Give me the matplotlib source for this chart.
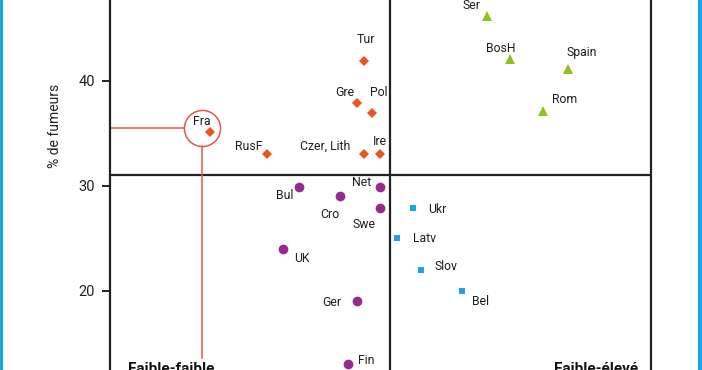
import matplotlib
matplotlib.use('Agg')
import matplotlib.pyplot as plt
from matplotlib.lines import Line2D

plt.rcParams['font.family'] = ['Roboto', 'DejaVu Sans']

# x: position on the horizontal axis (arbitrary units), y: % de fumeurs
orange_names = ['Fra', 'Tur', 'Gre', 'Pol', 'RusF', 'Czer, Lith', 'Ire']
orange_x = [10.0, 25.4, 24.7, 26.2, 15.7, 25.4, 27.0]
orange_y = [35.1, 41.9, 37.9, 36.9, 33.0, 33.0, 33.0]

green_names = ['Ser', 'BosH', 'Spain', 'Rom']
green_x = [37.7, 40.0, 45.8, 43.3]
green_y = [46.2, 42.1, 41.1, 37.1]

purple_names = ['Bul', 'Cro', 'Net', 'Swe', 'UK', 'Ger', 'Fin']
purple_x = [18.9, 23.0, 27.0, 27.0, 17.3, 24.7, 23.8]
purple_y = [29.9, 29.0, 29.9, 27.9, 24.0, 19.0, 13.0]

blue_names = ['Ukr', 'Latv', 'Slov', 'Bel']
blue_x = [30.3, 28.7, 31.1, 35.2]
blue_y = [27.9, 25.0, 22.0, 20.0]

x_split = 28.0
y_split = 31.0
yticks = [20, 30, 40]
corner_labels = ['Faible-faible', 'Faible-élevé']
highlight = 'Fra'

# label offsets in pixels (dx, dy) relative to the marker
offsets = {
    'Fra': (-8, 11), 'Tur': (2, 21), 'Gre': (-12, 10), 'Pol': (7, 21),
    'RusF': (-18, 8), 'Czer, Lith': (-39, 8), 'Ire': (0, 13),
    'Ser': (-15, 10), 'BosH': (-9, 10), 'Spain': (14, 17), 'Rom': (22, 12),
    'Bul': (-14, -9), 'Cro': (-10, -18), 'Net': (-18, 4), 'Swe': (-16, -17),
    'UK': (19, -10), 'Ger': (-25, -1), 'Fin': (18, 4),
    'Ukr': (24, -2), 'Latv': (28, 0), 'Slov': (25, 3), 'Bel': (19, -11),
}

ORANGE = '#e8561f'
GREEN = '#8dc21f'
PURPLE = '#962a8c'
BLUE = '#1ca3e3'
RED = '#e2574c'

fig = plt.figure(figsize=(7.02, 3.70), dpi=100)
ax = fig.add_axes([110 / 702, 0, 541 / 702, 1])
ax.set_xlim(0, 54.1)
ax.set_ylim(12.45, 47.7)

groups = [
    (orange_names, orange_x, orange_y, ORANGE, 'D', 5),
    (green_names, green_x, green_y, GREEN, '^', 6.5),
    (purple_names, purple_x, purple_y, PURPLE, 'o', 7),
    (blue_names, blue_x, blue_y, BLUE, 's', 5),
]
for names, xs, ys, col, mk, ms in groups:
    ax.plot(xs, ys, linestyle='none', marker=mk, color=col, markersize=ms,
            markeredgewidth=0, zorder=3)
    for n, x, y in zip(names, xs, ys):
        dx, dy = offsets[n]
        ax.annotate(n, (x, y), xytext=(dx, dy), textcoords='offset pixels',
                    ha='center', va='center', fontsize=8.8, color='#1e1e1e')

# quadrant lines
ax.axvline(x_split, color='#222222', lw=1.6, zorder=1)
ax.axhline(y_split, color='#222222', lw=1.6, zorder=1)

# highlight circle around France
cx, cy = 9.2, 35.52
r_x, r_y = 1.8, 18 / 10.5
ax.plot([cx], [cy], marker='o', markersize=26, markerfacecolor='none',
        markeredgecolor=RED, markeredgewidth=1.1, zorder=2)
ax.plot([0, cx - r_x], [cy, cy], color=RED, lw=1.1, zorder=2)
ax.plot([cx, cx], [cy - r_y, 13.62], color=RED, lw=1.1, zorder=2)

# corner labels (cut by the bottom edge, as in the source)
ax.text(1.8, 13.22, corner_labels[0], fontsize=11, fontweight='bold',
        ha='left', va='top', color='#111111')
ax.text(52.8, 13.22, corner_labels[1], fontsize=11, fontweight='bold',
        ha='right', va='top', color='#111111')

ax.set_yticks(yticks)
ax.set_xticks([])
ax.tick_params(axis='y', length=6, width=1.4, pad=5, labelsize=10.5,
               colors='#222222')
for s in ['top', 'bottom']:
    ax.spines[s].set_visible(False)
for s in ['left', 'right']:
    ax.spines[s].set_linewidth(1.6)
    ax.spines[s].set_color('#222222')
ax.set_ylabel('% de fumeurs', fontsize=10, color='#222222')
ax.yaxis.set_label_coords(-0.089, 0.66)

# blue frame edges
fig.add_artist(Line2D([0.002, 0.002], [0, 1], transform=fig.transFigure,
                      color=BLUE, lw=3))
fig.add_artist(Line2D([0.9975, 0.9975], [0, 1], transform=fig.transFigure,
                      color=BLUE, lw=3))

fig.savefig('out.png', dpi=100)
